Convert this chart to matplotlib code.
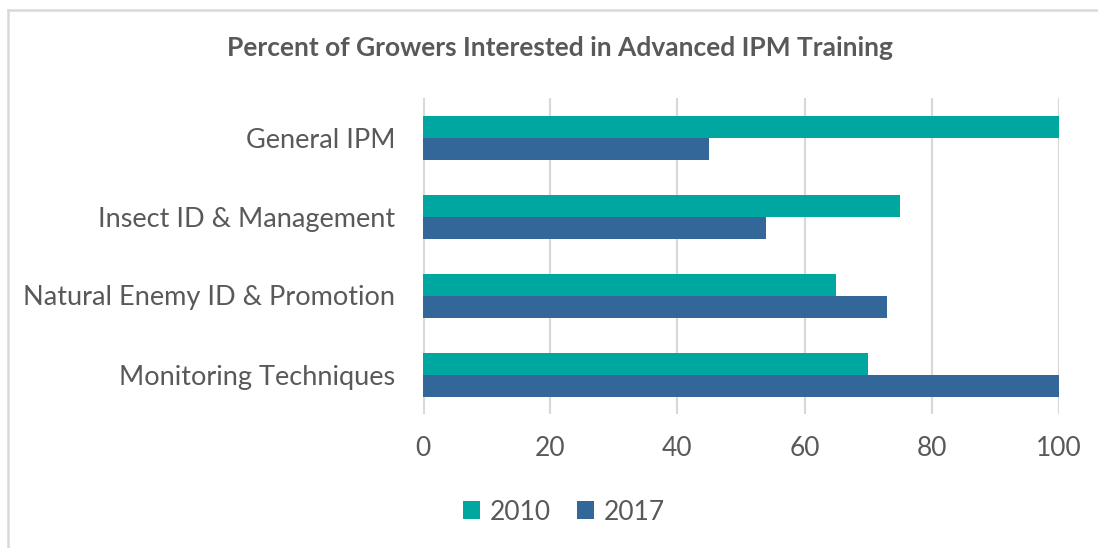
import matplotlib
matplotlib.use("Agg")
import matplotlib.pyplot as plt
from matplotlib.patches import Patch
from matplotlib.lines import Line2D
import numpy as np

plt.rcParams['font.family'] = ['Lato', 'DejaVu Sans']

categories = ["General IPM", "Insect ID & Management",
              "Natural Enemy ID & Promotion", "Monitoring Techniques"]
series_names = ["2010", "2017"]
values_2010 = [100, 75, 65, 70]
values_2017 = [45, 54, 73, 100]
x_ticks = [0, 20, 40, 60, 80, 100]

color_2010 = "#00A6A0"
color_2017 = "#336699"
text_color = "#595959"
grid_color = "#D9D9D9"

W, H = 1098, 548
fig = plt.figure(figsize=(W / 100, H / 100), dpi=100)

ax = fig.add_axes([423 / W, 1 - 414 / H, 636 / W, 316 / H])

n = len(categories)
pos = np.arange(n)[::-1].astype(float)
h = 22 / 79
ax.barh(pos + h / 2, values_2010, height=h, color=color_2010, zorder=3)
ax.barh(pos - h / 2, values_2017, height=h, color=color_2017, zorder=3)

ax.set_xlim(0, 100)
ax.set_ylim(-0.5, n - 0.5)
ax.set_xticks(x_ticks)
ax.set_xticklabels([str(t) for t in x_ticks])
ax.set_yticks(pos)
ax.set_yticklabels(categories)
ax.tick_params(axis='both', length=0, colors=text_color)
ax.tick_params(axis='y', labelsize=19.5, pad=20)
ax.tick_params(axis='x', labelsize=19, pad=16)
ax.xaxis.grid(True, color=grid_color, linewidth=1.6, zorder=0)
ax.yaxis.grid(False)
for s in ax.spines.values():
    s.set_visible(False)
ax.axvline(0, color=grid_color, linewidth=2.2, zorder=1)

fig.text(560 / W, 1 - 48 / H, "Percent of Growers Interested in Advanced IPM Training",
         ha='center', va='center', fontsize=19, fontweight='bold', color=text_color)

handles = [Patch(facecolor=color_2010, edgecolor='none'),
           Patch(facecolor=color_2017, edgecolor='none')]
leg = fig.legend(handles, series_names, loc='center', bbox_to_anchor=(564 / W, 1 - 512 / H),
                 ncol=2, frameon=False, fontsize=19, handlelength=0.65, handleheight=0.65,
                 handletextpad=0.35, columnspacing=1.0, labelcolor=text_color)

fig.add_artist(Line2D([8 / W, 1], [1 - 10 / H, 1 - 10 / H], transform=fig.transFigure,
                      color=grid_color, linewidth=1.8))
fig.add_artist(Line2D([8 / W, 8 / W], [0, 1 - 10 / H], transform=fig.transFigure,
                      color=grid_color, linewidth=1.8))

fig.savefig("out.png", dpi=100, facecolor='white')
